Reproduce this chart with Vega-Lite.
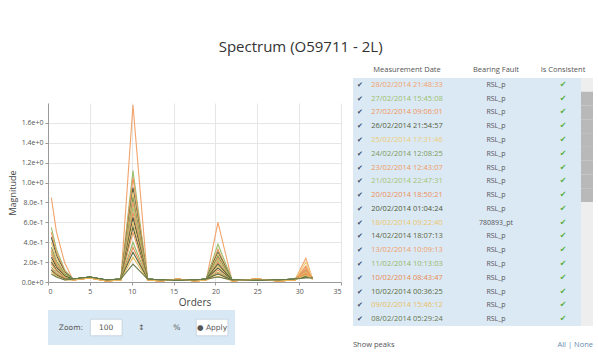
{
"$schema": "https://vega.github.io/schema/vega-lite/v6.json",
"padding": {"left": 8, "top": 39, "right": 2, "bottom": 0},
"background": "white",
"title": {"text": "Spectrum (O59711 - 2L)", "fontSize": 15, "fontWeight": "normal", "color": "#333333", "anchor": "middle", "offset": 11, "font": "Open Sans"},
"config": {"view": {"stroke": null}, "font": "Open Sans", "axis": {"labelColor": "#555555", "titleColor": "#444444", "domainColor": "#9a9a9a", "tickColor": "#9a9a9a", "gridColor": "#e6e6e6", "labelFont": "Open Sans", "titleFont": "Open Sans"}},
"datasets": {
"rows": [
{"r":1,"d":"28/02/2014 21:48:33","f":"RSL_p"},
{"r":2,"d":"27/02/2014 15:45:08","f":"RSL_p"},
{"r":3,"d":"27/02/2014 09:06:01","f":"RSL_p"},
{"r":4,"d":"26/02/2014 21:54:57","f":"RSL_p"},
{"r":5,"d":"25/02/2014 17:31:46","f":"RSL_p"},
{"r":6,"d":"24/02/2014 12:08:25","f":"RSL_p"},
{"r":7,"d":"23/02/2014 12:43:07","f":"RSL_p"},
{"r":8,"d":"21/02/2014 22:47:31","f":"RSL_p"},
{"r":9,"d":"20/02/2014 18:50:21","f":"RSL_p"},
{"r":10,"d":"20/02/2014 01:04:24","f":"RSL_p"},
{"r":11,"d":"18/02/2014 09:22:40","f":"780893_pt"},
{"r":12,"d":"14/02/2014 18:07:13","f":"RSL_p"},
{"r":13,"d":"13/02/2014 10:09:13","f":"RSL_p"},
{"r":14,"d":"11/02/2014 10:13:03","f":"RSL_p"},
{"r":15,"d":"10/02/2014 08:43:47","f":"RSL_p"},
{"r":16,"d":"10/02/2014 00:36:25","f":"RSL_p"},
{"r":17,"d":"09/02/2014 15:46:12","f":"RSL_p"},
{"r":18,"d":"08/02/2014 05:29:24","f":"RSL_p"}
],
"lines": [
{"s":1,"o":0.4,"v":0.85},{"s":1,"o":1,"v":0.51},{"s":1,"o":2,"v":0.19},{"s":1,"o":3,"v":0.02},{"s":1,"o":5,"v":0.04},{"s":1,"o":7,"v":0.01},{"s":1,"o":8.7,"v":0.02},{"s":1,"o":10.15,"v":1.78},{"s":1,"o":11.9,"v":0.02},{"s":1,"o":13.5,"v":0.01},{"s":1,"o":15.5,"v":0.03},{"s":1,"o":17.5,"v":0.01},{"s":1,"o":18.9,"v":0.02},{"s":1,"o":20.3,"v":0.60},{"s":1,"o":22,"v":0.01},{"s":1,"o":25,"v":0.03},{"s":1,"o":27.5,"v":0.01},{"s":1,"o":29.5,"v":0.02},{"s":1,"o":30.8,"v":0.24},{"s":1,"o":31.6,"v":0.03},
{"s":2,"o":0.4,"v":0.55},{"s":2,"o":1,"v":0.33},{"s":2,"o":2,"v":0.12},{"s":2,"o":3,"v":0.03},{"s":2,"o":5,"v":0.05},{"s":2,"o":7,"v":0.02},{"s":2,"o":8.7,"v":0.03},{"s":2,"o":10.15,"v":1.12},{"s":2,"o":11.9,"v":0.03},{"s":2,"o":13.5,"v":0.02},{"s":2,"o":15.5,"v":0.02},{"s":2,"o":17.5,"v":0.02},{"s":2,"o":18.9,"v":0.03},{"s":2,"o":20.3,"v":0.38},{"s":2,"o":22,"v":0.02},{"s":2,"o":25,"v":0.02},{"s":2,"o":27.5,"v":0.02},{"s":2,"o":29.5,"v":0.03},{"s":2,"o":30.8,"v":0.12},{"s":2,"o":31.6,"v":0.04},
{"s":3,"o":0.4,"v":0.50},{"s":3,"o":1,"v":0.30},{"s":3,"o":2,"v":0.11},{"s":3,"o":3,"v":0.02},{"s":3,"o":5,"v":0.04},{"s":3,"o":7,"v":0.01},{"s":3,"o":8.7,"v":0.02},{"s":3,"o":10.15,"v":1.05},{"s":3,"o":11.9,"v":0.02},{"s":3,"o":13.5,"v":0.01},{"s":3,"o":15.5,"v":0.03},{"s":3,"o":17.5,"v":0.01},{"s":3,"o":18.9,"v":0.02},{"s":3,"o":20.3,"v":0.33},{"s":3,"o":22,"v":0.01},{"s":3,"o":25,"v":0.03},{"s":3,"o":27.5,"v":0.01},{"s":3,"o":29.5,"v":0.02},{"s":3,"o":30.8,"v":0.16},{"s":3,"o":31.6,"v":0.03},
{"s":4,"o":0.4,"v":0.45},{"s":4,"o":1,"v":0.27},{"s":4,"o":2,"v":0.10},{"s":4,"o":3,"v":0.03},{"s":4,"o":5,"v":0.05},{"s":4,"o":7,"v":0.02},{"s":4,"o":8.7,"v":0.03},{"s":4,"o":10.15,"v":0.95},{"s":4,"o":11.9,"v":0.03},{"s":4,"o":13.5,"v":0.02},{"s":4,"o":15.5,"v":0.02},{"s":4,"o":17.5,"v":0.02},{"s":4,"o":18.9,"v":0.03},{"s":4,"o":20.3,"v":0.30},{"s":4,"o":22,"v":0.02},{"s":4,"o":25,"v":0.02},{"s":4,"o":27.5,"v":0.02},{"s":4,"o":29.5,"v":0.03},{"s":4,"o":30.8,"v":0.10},{"s":4,"o":31.6,"v":0.04},
{"s":5,"o":0.4,"v":0.40},{"s":5,"o":1,"v":0.24},{"s":5,"o":2,"v":0.09},{"s":5,"o":3,"v":0.02},{"s":5,"o":5,"v":0.04},{"s":5,"o":7,"v":0.01},{"s":5,"o":8.7,"v":0.02},{"s":5,"o":10.15,"v":0.90},{"s":5,"o":11.9,"v":0.02},{"s":5,"o":13.5,"v":0.01},{"s":5,"o":15.5,"v":0.03},{"s":5,"o":17.5,"v":0.01},{"s":5,"o":18.9,"v":0.02},{"s":5,"o":20.3,"v":0.28},{"s":5,"o":22,"v":0.01},{"s":5,"o":25,"v":0.03},{"s":5,"o":27.5,"v":0.01},{"s":5,"o":29.5,"v":0.02},{"s":5,"o":30.8,"v":0.20},{"s":5,"o":31.6,"v":0.03},
{"s":6,"o":0.4,"v":0.35},{"s":6,"o":1,"v":0.21},{"s":6,"o":2,"v":0.08},{"s":6,"o":3,"v":0.03},{"s":6,"o":5,"v":0.05},{"s":6,"o":7,"v":0.02},{"s":6,"o":8.7,"v":0.03},{"s":6,"o":10.15,"v":0.85},{"s":6,"o":11.9,"v":0.03},{"s":6,"o":13.5,"v":0.02},{"s":6,"o":15.5,"v":0.02},{"s":6,"o":17.5,"v":0.02},{"s":6,"o":18.9,"v":0.03},{"s":6,"o":20.3,"v":0.26},{"s":6,"o":22,"v":0.02},{"s":6,"o":25,"v":0.02},{"s":6,"o":27.5,"v":0.02},{"s":6,"o":29.5,"v":0.03},{"s":6,"o":30.8,"v":0.09},{"s":6,"o":31.6,"v":0.04},
{"s":7,"o":0.4,"v":0.32},{"s":7,"o":1,"v":0.19},{"s":7,"o":2,"v":0.07},{"s":7,"o":3,"v":0.02},{"s":7,"o":5,"v":0.04},{"s":7,"o":7,"v":0.01},{"s":7,"o":8.7,"v":0.02},{"s":7,"o":10.15,"v":0.80},{"s":7,"o":11.9,"v":0.02},{"s":7,"o":13.5,"v":0.01},{"s":7,"o":15.5,"v":0.03},{"s":7,"o":17.5,"v":0.01},{"s":7,"o":18.9,"v":0.02},{"s":7,"o":20.3,"v":0.24},{"s":7,"o":22,"v":0.01},{"s":7,"o":25,"v":0.03},{"s":7,"o":27.5,"v":0.01},{"s":7,"o":29.5,"v":0.02},{"s":7,"o":30.8,"v":0.14},{"s":7,"o":31.6,"v":0.03},
{"s":8,"o":0.4,"v":0.30},{"s":8,"o":1,"v":0.18},{"s":8,"o":2,"v":0.07},{"s":8,"o":3,"v":0.03},{"s":8,"o":5,"v":0.05},{"s":8,"o":7,"v":0.02},{"s":8,"o":8.7,"v":0.03},{"s":8,"o":10.15,"v":0.75},{"s":8,"o":11.9,"v":0.03},{"s":8,"o":13.5,"v":0.02},{"s":8,"o":15.5,"v":0.02},{"s":8,"o":17.5,"v":0.02},{"s":8,"o":18.9,"v":0.03},{"s":8,"o":20.3,"v":0.22},{"s":8,"o":22,"v":0.02},{"s":8,"o":25,"v":0.02},{"s":8,"o":27.5,"v":0.02},{"s":8,"o":29.5,"v":0.03},{"s":8,"o":30.8,"v":0.08},{"s":8,"o":31.6,"v":0.04},
{"s":9,"o":0.4,"v":0.28},{"s":9,"o":1,"v":0.17},{"s":9,"o":2,"v":0.06},{"s":9,"o":3,"v":0.02},{"s":9,"o":5,"v":0.04},{"s":9,"o":7,"v":0.01},{"s":9,"o":8.7,"v":0.02},{"s":9,"o":10.15,"v":0.70},{"s":9,"o":11.9,"v":0.02},{"s":9,"o":13.5,"v":0.01},{"s":9,"o":15.5,"v":0.03},{"s":9,"o":17.5,"v":0.01},{"s":9,"o":18.9,"v":0.02},{"s":9,"o":20.3,"v":0.20},{"s":9,"o":22,"v":0.01},{"s":9,"o":25,"v":0.03},{"s":9,"o":27.5,"v":0.01},{"s":9,"o":29.5,"v":0.02},{"s":9,"o":30.8,"v":0.12},{"s":9,"o":31.6,"v":0.03},
{"s":10,"o":0.4,"v":0.25},{"s":10,"o":1,"v":0.15},{"s":10,"o":2,"v":0.06},{"s":10,"o":3,"v":0.03},{"s":10,"o":5,"v":0.05},{"s":10,"o":7,"v":0.02},{"s":10,"o":8.7,"v":0.03},{"s":10,"o":10.15,"v":0.65},{"s":10,"o":11.9,"v":0.03},{"s":10,"o":13.5,"v":0.02},{"s":10,"o":15.5,"v":0.02},{"s":10,"o":17.5,"v":0.02},{"s":10,"o":18.9,"v":0.03},{"s":10,"o":20.3,"v":0.18},{"s":10,"o":22,"v":0.02},{"s":10,"o":25,"v":0.02},{"s":10,"o":27.5,"v":0.02},{"s":10,"o":29.5,"v":0.03},{"s":10,"o":30.8,"v":0.07},{"s":10,"o":31.6,"v":0.04},
{"s":11,"o":0.4,"v":0.22},{"s":11,"o":1,"v":0.13},{"s":11,"o":2,"v":0.05},{"s":11,"o":3,"v":0.02},{"s":11,"o":5,"v":0.04},{"s":11,"o":7,"v":0.01},{"s":11,"o":8.7,"v":0.02},{"s":11,"o":10.15,"v":0.60},{"s":11,"o":11.9,"v":0.02},{"s":11,"o":13.5,"v":0.01},{"s":11,"o":15.5,"v":0.03},{"s":11,"o":17.5,"v":0.01},{"s":11,"o":18.9,"v":0.02},{"s":11,"o":20.3,"v":0.16},{"s":11,"o":22,"v":0.01},{"s":11,"o":25,"v":0.03},{"s":11,"o":27.5,"v":0.01},{"s":11,"o":29.5,"v":0.02},{"s":11,"o":30.8,"v":0.10},{"s":11,"o":31.6,"v":0.03},
{"s":12,"o":0.4,"v":0.20},{"s":12,"o":1,"v":0.12},{"s":12,"o":2,"v":0.04},{"s":12,"o":3,"v":0.03},{"s":12,"o":5,"v":0.05},{"s":12,"o":7,"v":0.02},{"s":12,"o":8.7,"v":0.03},{"s":12,"o":10.15,"v":0.55},{"s":12,"o":11.9,"v":0.03},{"s":12,"o":13.5,"v":0.02},{"s":12,"o":15.5,"v":0.02},{"s":12,"o":17.5,"v":0.02},{"s":12,"o":18.9,"v":0.03},{"s":12,"o":20.3,"v":0.14},{"s":12,"o":22,"v":0.02},{"s":12,"o":25,"v":0.02},{"s":12,"o":27.5,"v":0.02},{"s":12,"o":29.5,"v":0.03},{"s":12,"o":30.8,"v":0.06},{"s":12,"o":31.6,"v":0.04},
{"s":13,"o":0.4,"v":0.18},{"s":13,"o":1,"v":0.11},{"s":13,"o":2,"v":0.04},{"s":13,"o":3,"v":0.02},{"s":13,"o":5,"v":0.04},{"s":13,"o":7,"v":0.01},{"s":13,"o":8.7,"v":0.02},{"s":13,"o":10.15,"v":0.50},{"s":13,"o":11.9,"v":0.02},{"s":13,"o":13.5,"v":0.01},{"s":13,"o":15.5,"v":0.03},{"s":13,"o":17.5,"v":0.01},{"s":13,"o":18.9,"v":0.02},{"s":13,"o":20.3,"v":0.12},{"s":13,"o":22,"v":0.01},{"s":13,"o":25,"v":0.03},{"s":13,"o":27.5,"v":0.01},{"s":13,"o":29.5,"v":0.02},{"s":13,"o":30.8,"v":0.09},{"s":13,"o":31.6,"v":0.03},
{"s":14,"o":0.4,"v":0.15},{"s":14,"o":1,"v":0.09},{"s":14,"o":2,"v":0.03},{"s":14,"o":3,"v":0.03},{"s":14,"o":5,"v":0.05},{"s":14,"o":7,"v":0.02},{"s":14,"o":8.7,"v":0.03},{"s":14,"o":10.15,"v":0.40},{"s":14,"o":11.9,"v":0.03},{"s":14,"o":13.5,"v":0.02},{"s":14,"o":15.5,"v":0.02},{"s":14,"o":17.5,"v":0.02},{"s":14,"o":18.9,"v":0.03},{"s":14,"o":20.3,"v":0.10},{"s":14,"o":22,"v":0.02},{"s":14,"o":25,"v":0.02},{"s":14,"o":27.5,"v":0.02},{"s":14,"o":29.5,"v":0.03},{"s":14,"o":30.8,"v":0.05},{"s":14,"o":31.6,"v":0.04},
{"s":15,"o":0.4,"v":0.13},{"s":15,"o":1,"v":0.08},{"s":15,"o":2,"v":0.03},{"s":15,"o":3,"v":0.02},{"s":15,"o":5,"v":0.04},{"s":15,"o":7,"v":0.01},{"s":15,"o":8.7,"v":0.02},{"s":15,"o":10.15,"v":0.35},{"s":15,"o":11.9,"v":0.02},{"s":15,"o":13.5,"v":0.01},{"s":15,"o":15.5,"v":0.03},{"s":15,"o":17.5,"v":0.01},{"s":15,"o":18.9,"v":0.02},{"s":15,"o":20.3,"v":0.09},{"s":15,"o":22,"v":0.01},{"s":15,"o":25,"v":0.03},{"s":15,"o":27.5,"v":0.01},{"s":15,"o":29.5,"v":0.02},{"s":15,"o":30.8,"v":0.08},{"s":15,"o":31.6,"v":0.03},
{"s":16,"o":0.4,"v":0.12},{"s":16,"o":1,"v":0.07},{"s":16,"o":2,"v":0.03},{"s":16,"o":3,"v":0.03},{"s":16,"o":5,"v":0.05},{"s":16,"o":7,"v":0.02},{"s":16,"o":8.7,"v":0.03},{"s":16,"o":10.15,"v":0.30},{"s":16,"o":11.9,"v":0.03},{"s":16,"o":13.5,"v":0.02},{"s":16,"o":15.5,"v":0.02},{"s":16,"o":17.5,"v":0.02},{"s":16,"o":18.9,"v":0.03},{"s":16,"o":20.3,"v":0.08},{"s":16,"o":22,"v":0.02},{"s":16,"o":25,"v":0.02},{"s":16,"o":27.5,"v":0.02},{"s":16,"o":29.5,"v":0.03},{"s":16,"o":30.8,"v":0.05},{"s":16,"o":31.6,"v":0.04},
{"s":17,"o":0.4,"v":0.10},{"s":17,"o":1,"v":0.06},{"s":17,"o":2,"v":0.02},{"s":17,"o":3,"v":0.02},{"s":17,"o":5,"v":0.04},{"s":17,"o":7,"v":0.01},{"s":17,"o":8.7,"v":0.02},{"s":17,"o":10.15,"v":0.25},{"s":17,"o":11.9,"v":0.02},{"s":17,"o":13.5,"v":0.01},{"s":17,"o":15.5,"v":0.03},{"s":17,"o":17.5,"v":0.01},{"s":17,"o":18.9,"v":0.02},{"s":17,"o":20.3,"v":0.06},{"s":17,"o":22,"v":0.01},{"s":17,"o":25,"v":0.03},{"s":17,"o":27.5,"v":0.01},{"s":17,"o":29.5,"v":0.02},{"s":17,"o":30.8,"v":0.07},{"s":17,"o":31.6,"v":0.03},
{"s":18,"o":0.4,"v":0.08},{"s":18,"o":1,"v":0.05},{"s":18,"o":2,"v":0.02},{"s":18,"o":3,"v":0.03},{"s":18,"o":5,"v":0.05},{"s":18,"o":7,"v":0.02},{"s":18,"o":8.7,"v":0.03},{"s":18,"o":10.15,"v":0.18},{"s":18,"o":11.9,"v":0.03},{"s":18,"o":13.5,"v":0.02},{"s":18,"o":15.5,"v":0.02},{"s":18,"o":17.5,"v":0.02},{"s":18,"o":18.9,"v":0.03},{"s":18,"o":20.3,"v":0.05},{"s":18,"o":22,"v":0.02},{"s":18,"o":25,"v":0.02},{"s":18,"o":27.5,"v":0.02},{"s":18,"o":29.5,"v":0.03},{"s":18,"o":30.8,"v":0.04},{"s":18,"o":31.6,"v":0.04}
]
},
"spacing": 11,
"hconcat": [
{
"bounds": "flush",
"spacing": 24,
"vconcat": [
{"width": 293, "height": 1, "data": {"values": [{}]}, "mark": {"type": "text", "text": ""}, "encoding": {}},
{
"bounds": "flush",
"spacing": 28,
"vconcat": [
{
"width": 293, "height": 179,
"data": {"name": "lines"},
"mark": {"type": "line", "strokeWidth": 1.1},
"encoding": {
"x": {"field": "o", "type": "quantitative", "scale": {"domain": [0, 35], "nice": false}, "axis": {"values": [0,5,10,15,20,25,30,35], "title": "Orders", "labelFontSize": 7, "titleFontSize": 10, "titleFontWeight": "normal", "tickSize": 3, "labelPadding": 2, "titlePadding": 3}},
"y": {"field": "v", "type": "quantitative", "scale": {"domain": [0, 1.8], "nice": false}, "axis": {"values": [0,0.2,0.4,0.6,0.8,1,1.2,1.4,1.6], "format": ".1e", "title": "Magnitude", "labelFontSize": 7, "titleFontSize": 9, "titleFontWeight": "normal", "tickSize": 3, "labelPadding": 2, "titlePadding": 4}},
"color": {"field": "s", "type": "nominal", "legend": null, "scale": {"domain": [1,2,3,4,5,6,7,8,9,10,11,12,13,14,15,16,17,18], "range": ["#f2a36b","#9bbf6b","#f0955a","#55603d","#eecb74","#7d9a5a","#ee9a60","#a3c474","#eb9058","#4f5a36","#ecc66a","#5b6640","#f0a066","#93b866","#e98a50","#586a3c","#e8c060","#66774c"]}},
"detail": {"field": "s", "type": "nominal"}
}
},
{
"width": 187, "height": 35,
"view": {"fill": "#d8e8f4", "stroke": null},
"data": {"values": [{"k":"lbl","t":"Zoom:"},{"k":"inp","t":"100"},{"k":"spin","t":"↕"},{"k":"pct","t":"%"},{"k":"btn","t":"● Apply"}]},
"encoding": {"x": {"field": "k", "type": "nominal", "scale": {"domain": ["lbl","inp","spin","pct","btn"], "paddingInner": 0.1, "paddingOuter": 0.2}, "axis": null}},
"layer": [
{"transform": [{"filter": "datum.k == 'inp' || datum.k == 'btn'"}], "mark": {"type": "rect", "fill": "white", "stroke": "#c9d6e0"}, "encoding": {"y": {"datum": "r", "type": "nominal", "scale": {"paddingOuter": 0.55}, "axis": null}}},
{"mark": {"type": "text", "fontSize": 7.5, "color": "#555555", "font": "DejaVu Sans"}, "encoding": {"text": {"field": "t"}}}
]
}
]
}
]
},
{
"spacing": 14,
"vconcat": [
{
"bounds": "flush",
"spacing": 0,
"hconcat": [
{"width": 14, "height": 248, "view": {"fill": "#dbe9f5", "stroke": null}, "data": {"name": "rows"}, "mark": {"type": "text", "text": "✔", "fontSize": 7, "color": "#3c4f66", "font": "DejaVu Sans"}, "encoding": {"y": {"field": "r", "type": "ordinal", "scale": {"domain": [1,2,3,4,5,6,7,8,9,10,11,12,13,14,15,16,17,18], "paddingInner": 0, "paddingOuter": 0}, "axis": null}}},
{"width": 80, "height": 248, "view": {"fill": "#dbe9f5", "stroke": null}, "title": {"text": "Measurement Date", "fontSize": 7.5, "fontWeight": "normal", "color": "#555555", "offset": 5, "anchor": "middle"}, "data": {"name": "rows"}, "mark": {"type": "text", "fontSize": 7.5}, "encoding": {"y": {"field": "r", "type": "ordinal", "scale": {"domain": [1,2,3,4,5,6,7,8,9,10,11,12,13,14,15,16,17,18], "paddingInner": 0, "paddingOuter": 0}, "axis": null}, "text": {"field": "d"}, "color": {"field": "r", "type": "nominal", "legend": null, "scale": {"domain": [1,2,3,4,5,6,7,8,9,10,11,12,13,14,15,16,17,18], "range": ["#f2a36b","#9bbf6b","#f0955a","#55603d","#eecb74","#7d9a5a","#ee9a60","#a3c474","#eb9058","#4f5a36","#ecc66a","#5b6640","#f0a066","#93b866","#e98a50","#586a3c","#e8c060","#66774c"]}}}},
{"width": 98, "height": 248, "view": {"fill": "#dbe9f5", "stroke": null}, "title": {"text": "Bearing Fault", "fontSize": 7.5, "fontWeight": "normal", "color": "#555555", "offset": 5, "anchor": "middle"}, "data": {"name": "rows"}, "mark": {"type": "text", "fontSize": 7, "color": "#555555"}, "encoding": {"y": {"field": "r", "type": "ordinal", "scale": {"domain": [1,2,3,4,5,6,7,8,9,10,11,12,13,14,15,16,17,18], "paddingInner": 0, "paddingOuter": 0}, "axis": null}, "text": {"field": "f"}}},
{"width": 36, "height": 248, "view": {"fill": "#dbe9f5", "stroke": null}, "title": {"text": "Is Consistent", "fontSize": 7.5, "fontWeight": "normal", "color": "#555555", "offset": 5, "anchor": "middle"}, "data": {"name": "rows"}, "mark": {"type": "text", "text": "✔", "fontSize": 8, "color": "#5aae3c", "font": "DejaVu Sans"}, "encoding": {"y": {"field": "r", "type": "ordinal", "scale": {"domain": [1,2,3,4,5,6,7,8,9,10,11,12,13,14,15,16,17,18], "paddingInner": 0, "paddingOuter": 0}, "axis": null}}},
{"width": 12, "height": 248, "view": {"fill": "#eeeeee", "stroke": null},
"data": {"values": [{"r":2},{"r":3},{"r":4},{"r":5},{"r":6},{"r":7},{"r":8},{"r":9}]},
"mark": {"type": "rect", "fill": "#b9b9b9"},
"encoding": {"y": {"field": "r", "type": "ordinal", "scale": {"domain": [1,2,3,4,5,6,7,8,9,10,11,12,13,14,15,16,17,18], "paddingInner": 0, "paddingOuter": 0}, "axis": null}}}
]
},
{
"width": 240, "height": 10,
"data": {"values": [{"k":"a","t":"Show peaks"},{"k":"b","t":"All | None"}]},
"encoding": {"x": {"field": "k", "type": "nominal", "scale": {"type": "point", "domain": ["a","b"], "padding": 0}, "axis": null}, "text": {"field": "t"}},
"layer": [
{"transform": [{"filter": "datum.k == 'a'"}], "mark": {"type": "text", "align": "left", "fontSize": 7.5, "color": "#555555"}},
{"transform": [{"filter": "datum.k == 'b'"}], "mark": {"type": "text", "align": "right", "fontSize": 7.5, "color": "#6a8caf"}}
]
}
]
}
]
}
